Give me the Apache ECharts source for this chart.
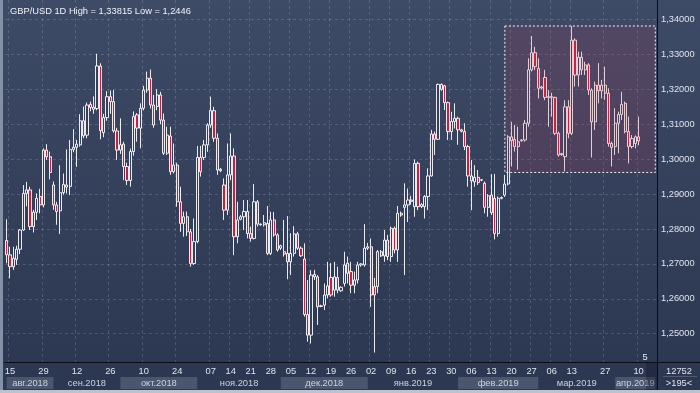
<!DOCTYPE html>
<html><head><meta charset="utf-8">
<script src="https://cdn.jsdelivr.net/npm/echarts@6/dist/echarts.min.js"></script>
<style>
html,body{margin:0;padding:0;}
body{width:700px;height:393px;overflow:hidden;background:linear-gradient(to bottom,#3e4b66 0%,#2c3751 95%,#2c3751 100%);}
#c{width:700px;height:393px;}
</style></head><body><div id="c"></div>
<script>
const FONT = "'Liberation Sans', Arial, sans-serif";
const titleText = 'GBP/USD 1D High = 1,33815 Low = 1,2446';

// trading days shown on the chart (incl. Sunday sessions Nov-Mar)
const monthDays = [
  ['2018-08', [14,15,16,17,20,21,22,23,24,27,28,29,30,31]],
  ['2018-09', [3,4,5,6,7,10,11,12,13,14,17,18,19,20,21,24,25,26,27,28]],
  ['2018-10', [1,2,3,4,5,8,9,10,11,12,15,16,17,18,19,22,23,24,25,26,29,30,31]],
  ['2018-11', [1,2,5,6,7,8,9,11,12,13,14,15,16,18,19,20,21,22,23,25,26,27,28,29,30]],
  ['2018-12', [2,3,4,5,6,7,9,10,11,12,13,14,16,17,18,19,20,21,23,24,25,26,27,28,30,31]],
  ['2019-01', [1,2,3,4,6,7,8,9,10,11,13,14,15,16,17,18,20,21,22,23,24,25,27,28,29,30,31]],
  ['2019-02', [1,3,4,5,6,7,8,10,11,12,13,14,15,17,18,19,20,21,22,24,25,26,27,28]],
  ['2019-03', [1,3,4,5,6,7,8,10,11,12,13,14,15,18,19,20,21,22,25,26,27,28,29]],
  ['2019-04', [1,2,3,4,5,8,9,10,11,12,15,16,17]]
];
const categories = [];
monthDays.forEach(([ym, days]) => days.forEach(d => categories.push(ym + '-' + String(d).padStart(2, '0'))));

// [open, close, low, high]
const ohlc = [
[1.2767,1.2726,1.2702,1.2828],[1.2726,1.2692,1.2659,1.2749],[1.2692,1.2716,1.2683,1.2749],[1.2713,1.2742,1.2697,1.2752],[1.2742,1.2797,1.2728,1.2800],
[1.2797,1.2902,1.2795,1.2926],[1.2902,1.2912,1.2865,1.2935],[1.2912,1.2807,1.2797,1.2921],[1.2807,1.2848,1.2790,1.2855],[1.2848,1.2888,1.2826,1.2902],
[1.2893,1.2869,1.2845,1.2915],[1.2869,1.3026,1.2862,1.3031],[1.3026,1.3007,1.2998,1.3043],[1.3007,1.2962,1.2942,1.3022],[1.2926,1.2869,1.2855,1.2936],
[1.2869,1.2850,1.2812,1.2878],[1.2852,1.2904,1.2786,1.2983],[1.2904,1.2928,1.2898,1.2959],[1.2920,1.2926,1.2902,1.3028],[1.2922,1.3028,1.2897,1.3055],
[1.3028,1.3034,1.3020,1.3086],[1.3034,1.3043,1.2978,1.3055],[1.3041,1.3110,1.3036,1.3129],[1.3110,1.3067,1.3060,1.3151],[1.3069,1.3155,1.3060,1.3162],
[1.3157,1.3148,1.3137,1.3165],[1.3143,1.3149,1.3130,1.3180],[1.3145,1.3267,1.3140,1.3302],[1.3267,1.3082,1.3057,1.3275],[1.3076,1.3119,1.3063,1.3130],
[1.3119,1.3179,1.3110,1.3195],[1.3179,1.3165,1.3130,1.3197],[1.3165,1.3081,1.3076,1.3198],[1.3081,1.3026,1.2998,1.3090],[1.3026,1.3041,1.3015,1.3117],
[1.3043,1.2979,1.2940,1.3050],[1.2979,1.2939,1.2926,1.2990],[1.2939,1.3022,1.2921,1.3030],[1.3022,1.3122,1.3010,1.3137],[1.3127,1.3089,1.3050,1.3132],
[1.3089,1.3146,1.3031,1.3160],[1.3146,1.3198,1.3140,1.3210],[1.3198,1.3232,1.3190,1.3251],[1.3232,1.3155,1.3145,1.3257],[1.3155,1.3098,1.3090,1.3184],
[1.3151,1.3184,1.3140,1.3200],[1.3184,1.3112,1.3100,1.3193],[1.3112,1.3017,1.3012,1.3131],[1.3017,1.3069,1.3012,1.3093],[1.3066,1.2964,1.2955,1.3093],
[1.2964,1.2983,1.2959,1.3045],[1.2983,1.2878,1.2864,1.2990],[1.2878,1.2816,1.2792,1.2921],[1.2816,1.2835,1.2778,1.2850],[1.2835,1.2792,1.2780,1.2850],
[1.2792,1.2701,1.2692,1.2800],[1.2701,1.2764,1.2697,1.2830],[1.2764,1.3005,1.2759,1.3038],[1.3005,1.2964,1.2950,1.3038],[1.3005,1.3041,1.2998,1.3055],
[1.3041,1.3098,1.3021,1.3103],[1.3098,1.3139,1.3090,1.3179],[1.3139,1.3060,1.3050,1.3150],[1.3060,1.2969,1.2955,1.3074],[1.2971,1.2967,1.2963,1.2975],
[1.2926,1.2854,1.2826,1.2945],[1.2854,1.2955,1.2840,1.3045],[1.2955,1.3009,1.2940,1.3074],[1.3009,1.2778,1.2725,1.3031],[1.2778,1.2826,1.2759,1.2878],
[1.2828,1.2835,1.2825,1.2840],[1.2835,1.2850,1.2797,1.2883],[1.2850,1.2787,1.2773,1.2883],[1.2787,1.2773,1.2764,1.2807],[1.2773,1.2878,1.2770,1.2929],
[1.2878,1.2814,1.2807,1.2883],[1.2814,1.2812,1.2810,1.2816],[1.2812,1.2818,1.2807,1.2840],[1.2816,1.2730,1.2725,1.2866],[1.2730,1.2826,1.2725,1.2849],
[1.2826,1.2783,1.2778,1.2849],[1.2783,1.2740,1.2735,1.2788],[1.2745,1.2752,1.2740,1.2755],[1.2735,1.2728,1.2721,1.2826],[1.2730,1.2706,1.2656,1.2837],
[1.2706,1.2730,1.2668,1.2788],[1.2730,1.2786,1.2721,1.2808],[1.2786,1.2745,1.2740,1.2792],[1.2745,1.2723,1.2720,1.2750],[1.2714,1.2555,1.2549,1.2759],
[1.2555,1.2496,1.2477,1.2654],[1.2496,1.2668,1.2472,1.2682],[1.2670,1.2663,1.2654,1.2683],[1.2663,1.2577,1.2525,1.2668],[1.2580,1.2578,1.2576,1.2583],
[1.2582,1.2611,1.2568,1.2644],[1.2611,1.2637,1.2601,1.2706],[1.2661,1.2611,1.2606,1.2703],[1.2625,1.2663,1.2606,1.2706],[1.2661,1.2625,1.2616,1.2692],
[1.2623,1.2633,1.2620,1.2636],[1.2644,1.2697,1.2635,1.2735],[1.2702,1.2673,1.2644,1.2721],[1.2678,1.2639,1.2616,1.2706],[1.2639,1.2654,1.2616,1.2678],
[1.2654,1.2697,1.2644,1.2706],[1.2697,1.2700,1.2692,1.2702],[1.2697,1.2745,1.2692,1.2814],[1.2745,1.2749,1.2740,1.2760],[1.2749,1.2611,1.2577,1.2773],
[1.2635,1.2611,1.2446,1.2660],[1.2635,1.2735,1.2616,1.2740],[1.2735,1.2723,1.2720,1.2740],[1.2723,1.2768,1.2706,1.2797],[1.2768,1.2721,1.2711,1.2783],
[1.2721,1.2802,1.2706,1.2807],[1.2802,1.2740,1.2730,1.2807],[1.2740,1.2845,1.2706,1.2866],[1.2845,1.2840,1.2835,1.2850],[1.2862,1.2869,1.2668,1.2931],
[1.2869,1.2883,1.2820,1.2916],[1.2883,1.2879,1.2870,1.2895],[1.2864,1.2988,1.2835,1.2999],[1.2988,1.2864,1.2854,1.2993],[1.2864,1.2870,1.2860,1.2874],
[1.2864,1.2893,1.2830,1.2897],[1.2893,1.2952,1.2854,1.2974],[1.2952,1.3072,1.2950,1.3084],[1.3072,1.3057,1.3012,1.3079],[1.3057,1.3214,1.3055,1.3217],
[1.3214,1.3200,1.3196,1.3217],[1.3210,1.3162,1.3141,1.3213],[1.3162,1.3079,1.3055,1.3165],[1.3079,1.3108,1.3055,1.3136],[1.3108,1.3117,1.3088,1.3160],
[1.3117,1.3084,1.3041,1.3122],[1.3084,1.3080,1.3077,1.3087],[1.3079,1.3036,1.3026,1.3103],[1.3036,1.2952,1.2921,1.3041],[1.2952,1.2938,1.2854,1.2998],
[1.2935,1.2948,1.2921,1.2983],[1.2948,1.2933,1.2926,1.2969],[1.2940,1.2941,1.2937,1.2943],[1.2931,1.2862,1.2845,1.2936],[1.2862,1.2895,1.2835,1.2900],
[1.2897,1.2847,1.2840,1.2957],[1.2888,1.2787,1.2770,1.2958],[1.2787,1.2888,1.2778,1.2893],[1.2888,1.2890,1.2885,1.2893],[1.2897,1.2929,1.2892,1.2955],
[1.2929,1.3064,1.2925,1.3069],[1.3064,1.3053,1.2979,1.3107],[1.3057,1.3036,1.3022,1.3098],[1.3036,1.3050,1.2970,1.3093],[1.3053,1.3055,1.3050,1.3057],
[1.3055,1.3103,1.3050,1.3112],[1.3103,1.3256,1.3093,1.3289],[1.3256,1.3305,1.3251,1.3353],[1.3305,1.3265,1.3255,1.3322],[1.3260,1.3203,1.3174,1.3289],
[1.3204,1.3207,1.3200,1.3210],[1.3234,1.3177,1.3169,1.3256],[1.3177,1.3179,1.3093,1.3198],[1.3179,1.3177,1.3122,1.3190],[1.3177,1.3074,1.3069,1.3179],
[1.3074,1.3012,1.3007,1.3079],[1.3013,1.3016,1.3010,1.3018],[1.3007,1.3150,1.2965,1.3169],[1.3150,1.3074,1.3060,1.3169],[1.3074,1.3341,1.3069,1.33815],
[1.3341,1.3241,1.3208,1.3346],[1.3241,1.3292,1.3208,1.3308],[1.3292,1.3256,1.3241,1.3308],[1.3256,1.3270,1.3241,1.3279],[1.3270,1.3198,1.3184,1.3275],
[1.3198,1.3107,1.3005,1.3203],[1.3107,1.3212,1.3084,1.3222],[1.3212,1.3196,1.3160,1.3275],[1.3196,1.3212,1.3174,1.3227],[1.3212,1.3189,1.3170,1.3265],
[1.3189,1.3045,1.3036,1.3203],[1.3045,1.3034,1.2979,1.3050],[1.3036,1.3103,1.3012,1.3146],[1.3103,1.3128,1.3017,1.3136],[1.3128,1.3157,1.3112,1.3193],
[1.3160,1.3079,1.3074,1.3165],[1.3079,1.3036,1.2988,1.3122],[1.3036,1.3059,1.3031,1.3069],[1.3045,1.3064,1.3031,1.3068],[1.3064,1.3052,1.3040,1.3122]
];

const tickDates = ['2018-08-15','2018-08-29','2018-09-12','2018-09-26','2018-10-10','2018-10-24',
  '2018-11-07','2018-11-14','2018-11-21','2018-11-28','2018-12-05','2018-12-12','2018-12-19','2018-12-26',
  '2019-01-02','2019-01-09','2019-01-16','2019-01-23','2019-01-30','2019-02-06','2019-02-13','2019-02-20',
  '2019-02-27','2019-03-06','2019-03-13','2019-03-27','2019-04-10'];
const monthLabels = ['авг.2018','сен.2018','окт.2018','ноя.2018','дек.2018','янв.2019','фев.2019','мар.2019','апр.2019'];
const monthStarts = ['2018-08-14','2018-09-03','2018-10-01','2018-11-01','2018-12-02','2019-01-01','2019-02-01','2019-03-01','2019-04-01'];
const monthEnds   = ['2018-09-03','2018-10-01','2018-11-01','2018-12-02','2019-01-01','2019-02-01','2019-03-01','2019-04-01','2019-04-17'];
const monthShaded = [true,false,true,false,true,false,true,false,true];

const yMin = 1.2419, yMax = 1.3456;
const lastClose = 1.30520;
const zone = { start: '2019-02-18', end: '2019-04-17', high: 1.33815, low: 1.2962 };
const barCountText = '12752', visibleText = '>195<';

const tickSet = new Set(tickDates);
const fmtPrice = v => v.toFixed(5).replace('.', ',');

const chart = echarts.init(document.getElementById('c'), null, { renderer: 'canvas' });
chart.setOption({
  animation: false,
  backgroundColor: 'transparent',
  textStyle: { fontFamily: FONT },
  title: { text: titleText, left: 5, top: 2, textStyle: { color: '#eef1f6', fontSize: 9.3, fontWeight: 'normal', fontFamily: FONT } },
  grid: [
    { left: 5, right: 43, top: 0, bottom: 31 },
    { left: 5, right: 43, top: 377, height: 12 }
  ],
  xAxis: [
    {
      type: 'category', data: categories, gridIndex: 0, boundaryGap: true,
      axisLine: { lineStyle: { color: '#0a0d15', width: 1 } },
      axisTick: { show: false },
      axisLabel: { interval: (i, v) => tickSet.has(v), formatter: v => v.slice(8), color: '#dfe4ec', fontSize: 9.3, margin: 5, fontFamily: FONT },
      splitLine: { show: true, interval: (i, v) => tickSet.has(v), lineStyle: { color: 'rgba(255,255,255,0.15)', type: [3, 3], width: 1 } }
    },
    { type: 'category', data: categories, gridIndex: 1, show: false, boundaryGap: true }
  ],
  yAxis: [
    {
      type: 'value', gridIndex: 0, position: 'right', min: yMin, max: yMax, splitNumber: 10,
      axisLine: { show: true, lineStyle: { color: '#0a0d15', width: 1 } },
      axisTick: { show: false },
      axisLabel: { formatter: fmtPrice, color: '#dfe4ec', fontSize: 9.3, margin: 4, showMinLabel: false, showMaxLabel: false, fontFamily: FONT },
      splitLine: { show: true, showMinLine: false, showMaxLine: false, lineStyle: { color: 'rgba(255,255,255,0.15)', type: [3, 3], width: 1 } }
    },
    { type: 'value', gridIndex: 1, min: 0, max: 1, show: false }
  ],
  series: [
    {
      type: 'candlestick', xAxisIndex: 0, yAxisIndex: 0, data: ohlc, barWidth: 2.7,
      itemStyle: { color: '#35415b', color0: '#c8203c', borderColor: '#ffffff', borderColor0: '#ffffff', borderWidth: 0.9 }
    },
    {
      type: 'line', xAxisIndex: 0, yAxisIndex: 0, data: [], clip: false, silent: true,
      markArea: {
        z: 10, silent: true,
        itemStyle: { color: 'rgba(190,60,95,0.17)', borderColor: '#f2f2f2', borderWidth: 1, borderType: [2, 2] },
        data: [[{ xAxis: zone.start, yAxis: zone.high }, { xAxis: zone.end, yAxis: zone.low }]]
      },
      markLine: {
        silent: true, symbol: 'none', lineStyle: { opacity: 0 },
        label: { show: true, position: 'end', distance: 2, formatter: () => fmtPrice(lastClose), color: '#1d2230', fontSize: 9.3, fontFamily: FONT,
                 backgroundColor: '#d6d8dc', padding: [2, 3, 1, 3] },
        data: [{ yAxis: lastClose }]
      }
    },
    {
      type: 'line', xAxisIndex: 1, yAxisIndex: 1, data: [], silent: true,
      markArea: {
        silent: true,
        label: { show: true, position: 'inside', color: '#cdd3dd', fontSize: 9.3, fontFamily: FONT },
        data: monthLabels.map((m, k) => [
          { name: m, xAxis: monthStarts[k], yAxis: 0, itemStyle: { color: monthShaded[k] ? '#4a566e' : 'rgba(0,0,0,0)' } },
          { xAxis: monthEnds[k], yAxis: 1 }
        ])
      }
    }
  ],
  graphic: [
    { type: 'rect', shape: { x: 0, y: 0, width: 3, height: 393 }, style: { fill: '#8391a7' }, z: 100 },
    { type: 'rect', shape: { x: 0, y: 390, width: 700, height: 3 }, style: { fill: '#bcc3ce' }, z: 100 },
    { type: 'rect', shape: { x: 646, y: 363, width: 11, height: 27 }, style: { fill: 'rgba(18,22,36,0.35)' }, z: 100 },
    { type: 'line', shape: { x1: 657.5, y1: 362, x2: 657.5, y2: 390 }, style: { stroke: '#0a0d15', lineWidth: 1 }, z: 100 },
    { type: 'line', shape: { x1: 657, y1: 362.5, x2: 700, y2: 362.5 }, style: { stroke: '#0a0d15', lineWidth: 1 }, z: 100 },
    { type: 'line', shape: { x1: 663, y1: 376.5, x2: 697, y2: 376.5 }, style: { stroke: 'rgba(255,255,255,0.18)', lineWidth: 1 }, z: 100 },
    { type: 'text', x: 679, y: 371, style: { text: barCountText, fill: '#dfe4ec', font: '9.3px ' + FONT, align: 'center', verticalAlign: 'middle' }, z: 100 },
    { type: 'text', x: 679, y: 383, style: { text: visibleText, fill: '#dfe4ec', font: '9.3px ' + FONT, align: 'center', verticalAlign: 'middle' }, z: 100 },
    { type: 'text', x: 645, y: 357, style: { text: '5', fill: '#e8ecf2', font: '9.3px ' + FONT, align: 'center', verticalAlign: 'middle' }, z: 100 }
  ]
});
</script></body></html>
